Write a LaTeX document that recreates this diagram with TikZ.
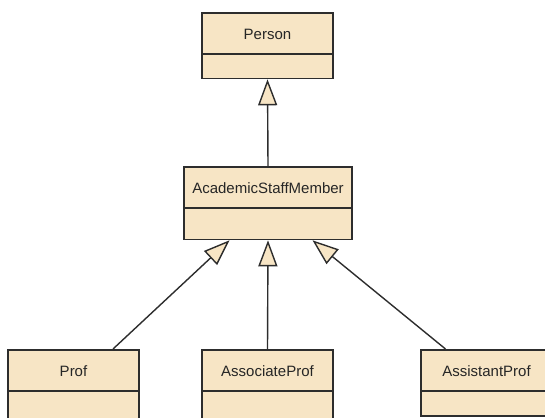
\documentclass[tikz,border=0pt]{standalone}
\usepackage{fontspec}
\setmainfont{Liberation Sans}
\usepackage{xcolor}
\usetikzlibrary{shapes.multipart, arrows.meta}

\definecolor{umlfill}{RGB}{247,229,197}
\definecolor{umlline}{RGB}{45,45,45}

\begin{document}
\begin{tikzpicture}[
    x=1pt, y=-1pt,
    uml class/.style = {
        rectangle split,
        rectangle split parts=2,
        draw=umlline,
        line width=1.6pt,
        fill=umlfill,
        minimum width=#1,
        inner xsep=0pt,
        inner ysep=0pt,
        anchor=north,
        font=\fontsize{15}{18}\selectfont,
        text=black!85
    },
    uml class/.default=131pt,
    split line/.style = {draw=umlline, line width=2pt},
    inherits/.style = {
        draw=umlline,
        line width=1.4pt,
        -{Triangle[length=26pt, width=19pt, fill=umlfill, line width=1.4pt]}
    }
]

\path[use as bounding box, clip] (0,0) rectangle (545,417);

\node [uml class] (person) at (267.5,12.5)
    {\rule[-14pt]{0pt}{39.5pt}Person \nodepart{two} \rule{0pt}{22.5pt}};

\node [uml class=168pt] (staff) at (268,166)
    {\rule[-14.5pt]{0pt}{40pt}AcademicStaffMember \nodepart{two} \rule{0pt}{29.5pt}};

\node [uml class] (prof) at (73.5,349)
    {\rule[-14pt]{0pt}{39.5pt}Prof \nodepart{two} \rule{0pt}{30pt}};

\node [uml class] (assoc) at (267.5,349)
    {\rule[-14pt]{0pt}{39.5pt}AssociateProf \nodepart{two} \rule{0pt}{30pt}};

\node [uml class] (assist) at (486.5,349)
    {\rule[-14pt]{0pt}{39.5pt}AssistantProf \nodepart{two} \rule{0pt}{23.5pt}};

\foreach \cls in {person, staff, prof, assoc, assist}
    \draw[split line] (\cls.text split west) -- (\cls.text split east);

\draw[inherits] (staff.north) -- (person.south);

\draw[inherits] ([xshift=39.5pt]prof.north) -- ([xshift=-38.5pt]staff.south);
\draw[inherits] (assoc.north) -- (staff.south);
\draw[inherits] ([xshift=-41pt]assist.north) -- ([xshift=44.5pt]staff.south);

\end{tikzpicture}
\end{document}
